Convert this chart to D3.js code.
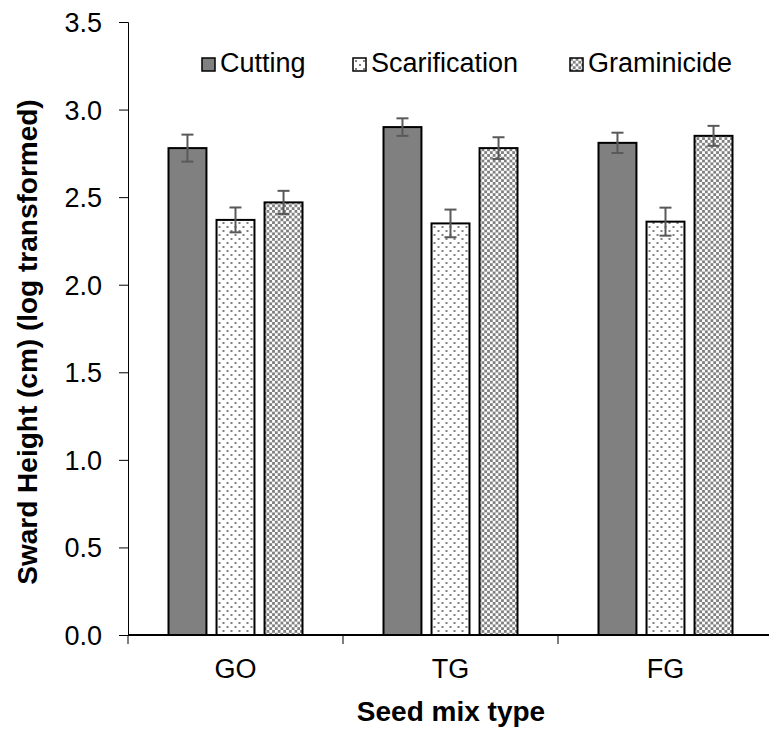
<!DOCTYPE html>
<html>
<head>
<meta charset="utf-8">
<script src="https://cdn.jsdelivr.net/npm/d3@7"></script>
<style>
  body { margin: 0; background: #fff; }
  text { font-family: Arial, "Liberation Sans", sans-serif; fill: #000; }
</style>
</head>
<body>
<div id="chart"></div>
<script>
// values
const categories = ["GO", "TG", "FG"];
const series = ["Cutting", "Scarification", "Graminicide"];
const cutting = [2.78, 2.90, 2.81];
const scarification = [2.37, 2.35, 2.36];
const graminicide = [2.47, 2.78, 2.85];
const cuttingErr = [0.077, 0.050, 0.058];
const scarificationErr = [0.071, 0.079, 0.080];
const graminicideErr = [0.066, 0.062, 0.057];
const yTicks = [0, 0.5, 1.0, 1.5, 2.0, 2.5, 3.0, 3.5];

const W = 769, H = 731;
const m = { left: 128, top: 22, right: -4, bottom: 96 };

const values = [cutting, scarification, graminicide];
const errs = [cuttingErr, scarificationErr, graminicideErr];
const fills = ["#808080", "url(#dots)", "url(#checks)"];

const svg = d3.select("#chart").append("svg")
    .attr("width", W)
    .attr("height", H);

// patterns
const defs = svg.append("defs");
const dots = defs.append("pattern")
    .attr("id", "dots")
    .attr("patternUnits", "userSpaceOnUse")
    .attr("width", 8).attr("height", 8);
dots.append("rect").attr("width", 8).attr("height", 8).attr("fill", "#fff");
dots.append("rect").attr("x", 2).attr("y", 2).attr("width", 2).attr("height", 2).attr("fill", "#808080");
dots.append("rect").attr("x", 6).attr("y", 6).attr("width", 2).attr("height", 2).attr("fill", "#808080");

const checks = defs.append("pattern")
    .attr("id", "checks")
    .attr("patternUnits", "userSpaceOnUse")
    .attr("width", 5.6).attr("height", 5.6);
checks.append("rect").attr("width", 5.6).attr("height", 5.6).attr("fill", "#fff");
checks.append("rect").attr("width", 2.8).attr("height", 2.8).attr("fill", "#808080");
checks.append("rect").attr("x", 2.8).attr("y", 2.8).attr("width", 2.8).attr("height", 2.8).attr("fill", "#808080");

// scales
const x0 = d3.scaleBand().domain(categories).range([m.left, W - m.right]);
const x1 = d3.scaleBand().domain(series).range([0, 134]).paddingInner(0.21);
const groupOff = (x0.bandwidth() - 134) / 2;
const y = d3.scaleLinear().domain([0, 3.5]).range([H - m.bottom, m.top]);

// y axis
const yAxis = d3.axisLeft(y).tickValues(yTicks).tickFormat(d3.format(".1f"))
    .tickSizeInner(9).tickSizeOuter(9).tickPadding(17);
const gy = svg.append("g").attr("class", "y axis")
    .attr("transform", "translate(" + m.left + ",0)")
    .call(yAxis);
gy.select(".domain").attr("stroke", "#000").attr("stroke-width", 1);
gy.selectAll(".tick line").attr("stroke", "#000");
gy.selectAll(".tick text").style("font-size", "27px").attr("dy", "0.35em");

// bars
const groups = svg.append("g").selectAll("g")
    .data(categories)
    .enter().append("g")
    .attr("transform", d => "translate(" + (x0(d) + groupOff) + ",0)");

series.forEach((s, si) => {
    groups.append("rect")
        .attr("x", x1(s))
        .attr("y", (d, i) => y(values[si][i]))
        .attr("width", x1.bandwidth())
        .attr("height", (d, i) => y(0) - y(values[si][i]))
        .attr("fill", fills[si])
        .attr("stroke", "#000")
        .attr("stroke-width", 2);
});

// error bars
series.forEach((s, si) => {
    const cx = x1(s) + x1.bandwidth() / 2;
    const eb = groups.append("g")
        .attr("stroke", "#595959")
        .attr("stroke-width", 2);
    eb.append("line")
        .attr("x1", cx).attr("x2", cx)
        .attr("y1", (d, i) => y(values[si][i] + errs[si][i]))
        .attr("y2", (d, i) => y(values[si][i] - errs[si][i]));
    eb.append("line")
        .attr("x1", cx - 6).attr("x2", cx + 6)
        .attr("y1", (d, i) => y(values[si][i] + errs[si][i]))
        .attr("y2", (d, i) => y(values[si][i] + errs[si][i]));
    eb.append("line")
        .attr("x1", cx - 6).attr("x2", cx + 6)
        .attr("y1", (d, i) => y(values[si][i] - errs[si][i]))
        .attr("y2", (d, i) => y(values[si][i] - errs[si][i]));
});

// x axis
const xAxis = d3.axisBottom(x0).tickSize(0).tickPadding(24);
const gx = svg.append("g").attr("class", "x axis")
    .attr("transform", "translate(0," + y(0) + ")")
    .call(xAxis);
gx.select(".domain").remove();
gx.selectAll(".tick text").style("font-size", "27px");
gx.append("line")
    .attr("x1", m.left).attr("x2", W)
    .attr("stroke", "#000").attr("stroke-width", 2);
gx.selectAll(".sep")
    .data(categories)
    .enter().append("line")
    .attr("class", "sep")
    .attr("x1", d => x0(d)).attr("x2", d => x0(d))
    .attr("y1", 0).attr("y2", 9)
    .attr("stroke", "#000").attr("stroke-width", 1);

// axis titles
svg.append("text")
    .attr("x", 451).attr("y", 721)
    .attr("text-anchor", "middle")
    .style("font-size", "28px").style("font-weight", "bold")
    .text("Seed mix type");

svg.append("text")
    .attr("transform", "translate(37,342) rotate(-90)")
    .attr("text-anchor", "middle")
    .style("font-size", "28px").style("font-weight", "bold")
    .text("Sward Height (cm) (log transformed)");

// legend
const legendX = [202, 353, 570];
const legend = svg.append("g").selectAll("g")
    .data(series)
    .enter().append("g")
    .attr("transform", (d, i) => "translate(" + legendX[i] + ",58)");
legend.append("rect")
    .attr("width", 13).attr("height", 13)
    .attr("fill", (d, i) => fills[i])
    .attr("stroke", "#000").attr("stroke-width", 1.5);
legend.append("text")
    .attr("x", 18).attr("y", 14)
    .style("font-size", "27px")
    .text(d => d);
</script>
</body>
</html>
